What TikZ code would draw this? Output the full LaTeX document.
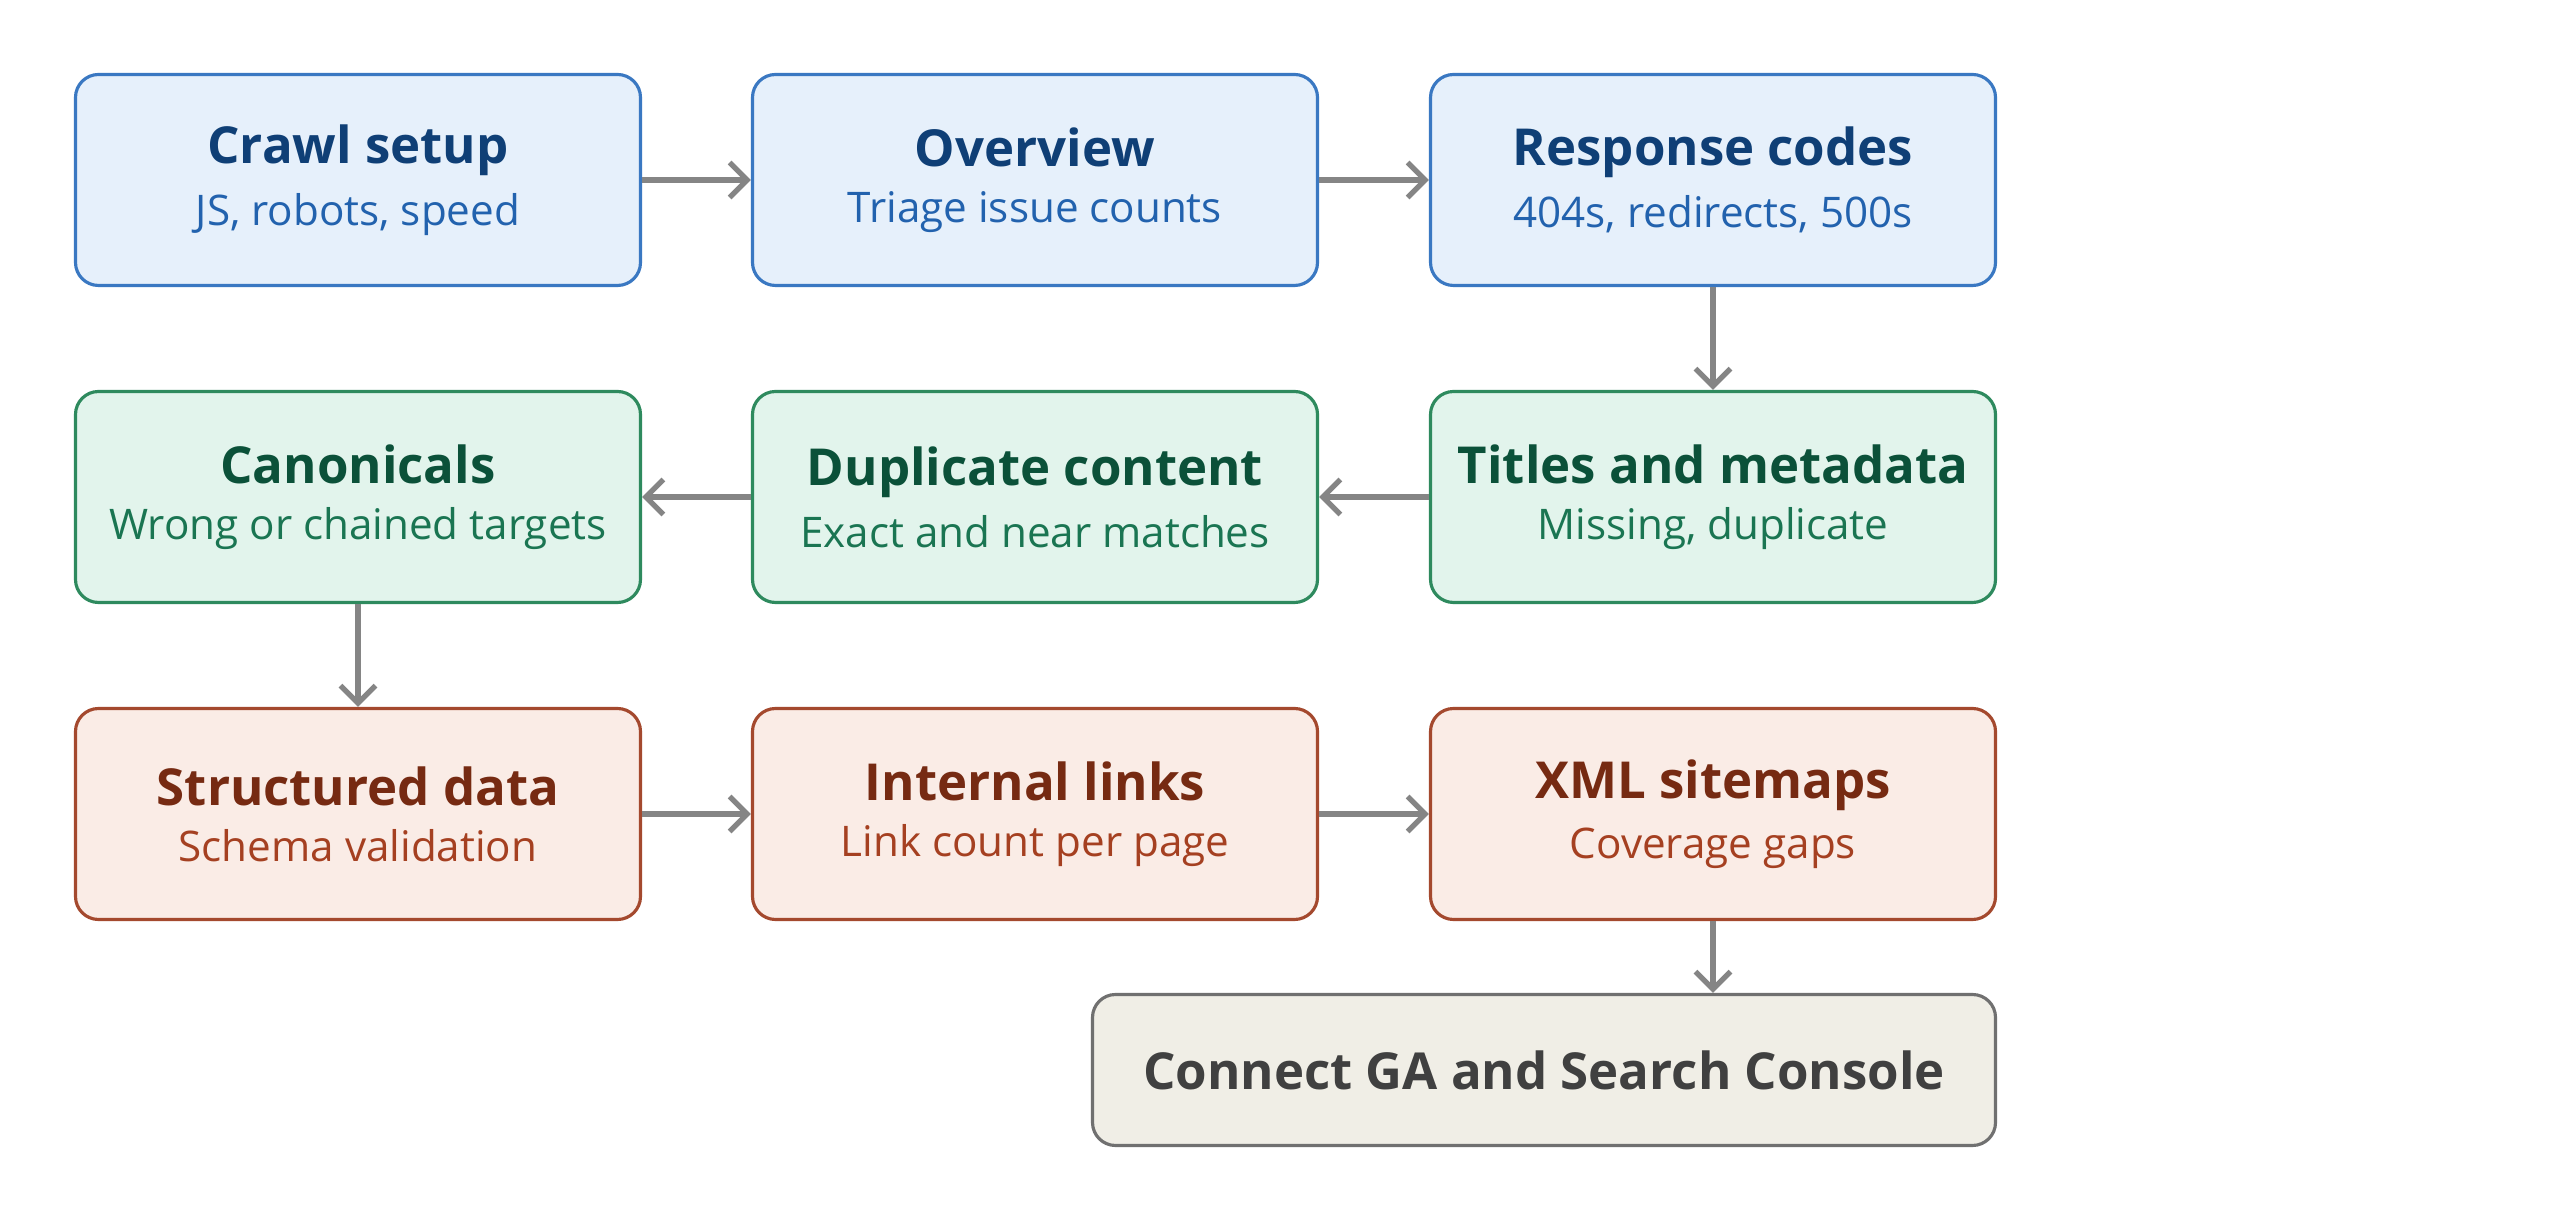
\documentclass[tikz,border=0pt]{standalone}
\usepackage{fontspec}
\setmainfont{Open Sans}
\usetikzlibrary{arrows.meta,positioning}
\definecolor{bluefill}{HTML}{E6F0FB}\definecolor{blueline}{HTML}{3A78C2}
\definecolor{bluehead}{HTML}{0F3F76}\definecolor{bluesub}{HTML}{2262AE}
\definecolor{greenfill}{HTML}{E2F4EC}\definecolor{greenline}{HTML}{2E8A5E}
\definecolor{greenhead}{HTML}{0B5139}\definecolor{greensub}{HTML}{1A7552}
\definecolor{redfill}{HTML}{FAECE6}\definecolor{redline}{HTML}{A4492E}
\definecolor{redhead}{HTML}{762A12}\definecolor{redsub}{HTML}{A54021}
\definecolor{grayfill}{HTML}{F0EEE6}\definecolor{grayline}{HTML}{707070}
\definecolor{graytext}{HTML}{404040}\definecolor{arrowgray}{HTML}{858585}
\newcommand{\boxtext}[2]{{\fontsize{14.5}{17}\selectfont\bfseries #1}\\[4pt]{\fontsize{12}{14}\selectfont #2}}
\tikzset{
  stage/.style={draw, rounded corners=0.23cm, line width=0.9pt, minimum width=5.65cm,
    minimum height=2.11cm, align=center, inner sep=0pt},
  crawlbox/.style={stage, fill=bluefill, draw=blueline, text=bluesub},
  contentbox/.style={stage, fill=greenfill, draw=greenline, text=greensub},
  linkbox/.style={stage, fill=redfill, draw=redline, text=redsub},
  flow/.style={draw=arrowgray, line width=1.5pt, -{Straight Barb[length=5pt,width=10pt]}}
}
\begin{document}
\begin{tikzpicture}
\useasboundingbox (0,0) rectangle (25.6,-12.05);
% row 1
\node[crawlbox] (setup) at (3.58,-1.80) {\boxtext{\color{bluehead}Crawl setup}{JS, robots, speed}};
\node[crawlbox] (overview) at (10.35,-1.80) {\boxtext{\color{bluehead}Overview}{Triage issue counts}};
\node[crawlbox] (codes) at (17.13,-1.80) {\boxtext{\color{bluehead}Response codes}{404s, redirects, 500s}};
% row 2
\node[contentbox] (titles) at (17.13,-4.97) {\boxtext{\color{greenhead}Titles and metadata}{Missing, duplicate}};
\node[contentbox] (duplicate) at (10.35,-4.97) {\boxtext{\color{greenhead}Duplicate content}{Exact and near matches}};
\node[contentbox] (canonicals) at (3.58,-4.97) {\boxtext{\color{greenhead}Canonicals}{Wrong or chained targets}};
% row 3
\node[linkbox] (schema) at (3.58,-8.14) {\boxtext{\color{redhead}Structured data}{Schema validation}};
\node[linkbox] (links) at (10.35,-8.14) {\boxtext{\color{redhead}Internal links}{Link count per page}};
\node[linkbox] (sitemaps) at (17.13,-8.14) {\boxtext{\color{redhead}XML sitemaps}{Coverage gaps}};
% last step
\node[stage, fill=grayfill, draw=grayline, text=graytext, minimum width=9.03cm, minimum height=1.51cm]
  (connect) at (15.44,-10.70) {\fontsize{14.5}{17}\selectfont\bfseries Connect GA and Search Console};
\draw[flow] (setup) -- (overview);
\draw[flow] (overview) -- (codes);
\draw[flow] (codes) -- (titles);
\draw[flow] (titles) -- (duplicate);
\draw[flow] (duplicate) -- (canonicals);
\draw[flow] (canonicals) -- (schema);
\draw[flow] (schema) -- (links);
\draw[flow] (links) -- (sitemaps);
\draw[flow] (sitemaps) -- (sitemaps |- connect.north);
\end{tikzpicture}
\end{document}
